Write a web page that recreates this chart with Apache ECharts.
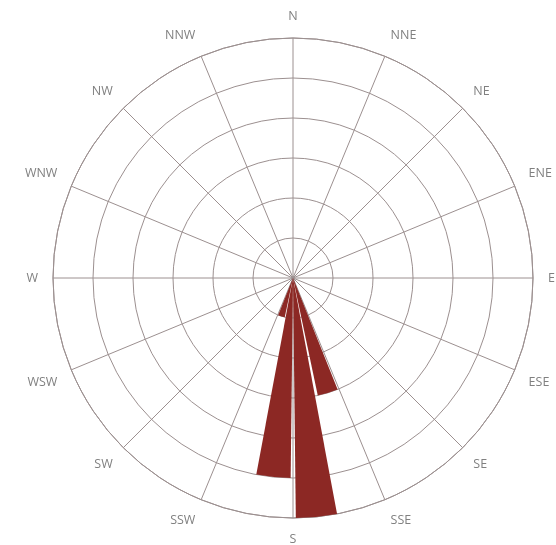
<!DOCTYPE html>
<html>
<head>
<meta charset="utf-8">
<script src="https://cdn.jsdelivr.net/npm/echarts@6/dist/echarts.min.js"></script>
<style>
html,body{margin:0;padding:0;background:#fff;}
#chart{width:556px;height:545px;}
</style>
</head>
<body>
<div id="chart"></div>
<script>
// 16 compass directions (spoke labels)
const directions = ['N','NNE','NE','ENE','E','ESE','SE','SSE','S','SSW','SW','WSW','W','WNW','NW','NNW'];
// 32 half-sector bins of 11.25°, labelled by their starting bearing
const binStarts = ['0','11.25','22.5','33.75','45','56.25','67.5','78.75','90','101.25','112.5','123.75','135','146.25','157.5','168.75','180','191.25','202.5','213.75','225','236.25','247.5','258.75','270','281.25','292.5','303.75','315','326.25','337.5','348.75'];
// frequency per bin
const frequencies = [0,0,0,0,0,0,0,0,0,0,0,0,0,0,3,6,5,1,0,0,0,0,0,0,0,0,0,0,0,0,0,0];
const radiusMax = 6;

const gridColor = '#9c9090';
const chart = echarts.init(document.getElementById('chart'));
chart.setOption({
  backgroundColor: '#ffffff',
  animation: false,
  polar: [
    {center: [293, 278], radius: 240},
    {center: [293, 278], radius: 240}
  ],
  angleAxis: [
    {
      polarIndex: 0, type: 'value', min: 0, max: 360, interval: 22.5,
      startAngle: 90, clockwise: true, z: 1,
      axisLine: {show: true, lineStyle: {color: gridColor, width: 1}},
      axisTick: {show: false},
      splitLine: {show: true, lineStyle: {color: gridColor, width: 1}},
      axisLabel: {show: true, color: '#808080', fontSize: 12.5, margin: 15,
        fontFamily: 'Open Sans, Liberation Sans, sans-serif',
        showMaxLabel: false,
        formatter: function (v) {
          if (v >= 360) return '';
          return directions[Math.round(v / 22.5) % directions.length];
        }}
    },
    {
      polarIndex: 1, type: 'category', data: binStarts, boundaryGap: true,
      startAngle: 90, clockwise: true, show: false
    }
  ],
  radiusAxis: [
    {
      polarIndex: 0, type: 'value', min: 0, max: radiusMax, interval: 1,
      axisLine: {show: false}, axisTick: {show: false}, axisLabel: {show: false},
      splitLine: {show: true, lineStyle: {color: gridColor, width: 1}}
    },
    {
      polarIndex: 1, type: 'value', min: 0, max: radiusMax, show: false
    }
  ],
  series: [{
    type: 'bar', coordinateSystem: 'polar', polarIndex: 1,
    data: frequencies, barCategoryGap: '12%', z: 3,
    itemStyle: {color: '#8c2824'}
  }]
});
</script>
</body>
</html>
